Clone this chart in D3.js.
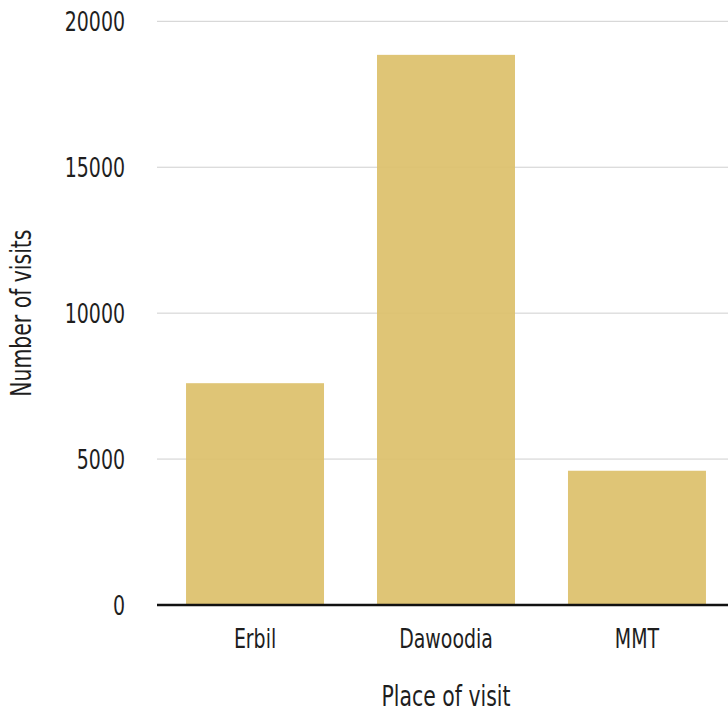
<!DOCTYPE html>
<html>
<head>
<meta charset="utf-8">
<script src="https://cdn.jsdelivr.net/npm/d3@7"></script>
<style>
  html, body { margin: 0; padding: 0; background: #fff; }
  svg { display: block; }
  text { font-family: "DejaVu Sans Condensed", "DejaVu Sans", sans-serif; fill: #1e1e1e; }
</style>
</head>
<body>
<svg id="chart" width="728" height="713"></svg>
<script>
// Visits per place
const places = ["Erbil", "Dawoodia", "MMT"];
const visits = [7600, 18850, 4600];
const yTicks = [0, 5000, 10000, 15000, 20000];

const svg = d3.select("#chart");
const plotLeft = 157, plotRight = 728, plotTop = 21.3, plotBottom = 605;
const squeeze = "scale(0.81,1)"; // narrower lettering

const x = d3.scaleBand()
  .domain(places)
  .range([plotLeft, 735])
  .paddingInner(0.2775)
  .paddingOuter(0.152);

const y = d3.scaleLinear()
  .domain([0, 20000])
  .range([plotBottom, plotTop]);

// Horizontal gridlines
svg.append("g")
  .selectAll("line")
  .data(yTicks.filter(d => d > 0))
  .join("line")
  .attr("x1", plotLeft)
  .attr("x2", plotRight)
  .attr("y1", d => y(d))
  .attr("y2", d => y(d))
  .attr("stroke", "#cfcfcf")
  .attr("stroke-width", 1);

// Bars
svg.append("g")
  .selectAll("rect")
  .data(places.map((p, i) => ({ place: p, value: visits[i] })))
  .join("rect")
  .attr("x", d => x(d.place))
  .attr("width", x.bandwidth())
  .attr("y", d => y(d.value))
  .attr("height", d => y(0) - y(d.value))
  .attr("fill", "#dcc06a")
  .attr("fill-opacity", 0.92);

// Y axis tick labels
const yAxis = d3.axisLeft(y).tickValues(yTicks).tickSize(0).tickPadding(0).tickFormat(d3.format("d"));
const gy = svg.append("g").attr("transform", "translate(125,0)").call(yAxis);
gy.attr("font-family", null);
gy.select(".domain").remove();
gy.selectAll("text")
  .attr("font-size", 26)
  .attr("x", 0)
  .attr("dy", "0.35em")
  .attr("transform", squeeze);

// X axis labels
const xAxis = d3.axisBottom(x).tickSize(0).tickPadding(0);
const gx = svg.append("g").attr("transform", `translate(0,${plotBottom})`).call(xAxis);
gx.attr("font-family", null);
gx.select(".domain").remove();
gx.selectAll("text")
  .attr("font-size", 26)
  .attr("dy", 0)
  .attr("y", 43)
  .attr("transform", squeeze);

// Baseline
svg.append("line")
  .attr("x1", plotLeft)
  .attr("x2", plotRight)
  .attr("y1", y(0))
  .attr("y2", y(0))
  .attr("stroke", "#111")
  .attr("stroke-width", 2.5);

// Axis titles
svg.append("g")
  .attr("transform", `translate(${(x("Dawoodia") + x.bandwidth() / 2)},706)`)
  .append("text")
  .attr("transform", squeeze)
  .attr("text-anchor", "middle")
  .attr("font-size", 28)
  .text("Place of visit");

svg.append("g")
  .attr("transform", `translate(31,${(plotTop + plotBottom) / 2}) rotate(-90)`)
  .append("text")
  .attr("transform", squeeze)
  .attr("text-anchor", "middle")
  .attr("font-size", 28)
  .text("Number of visits");
</script>
</body>
</html>
